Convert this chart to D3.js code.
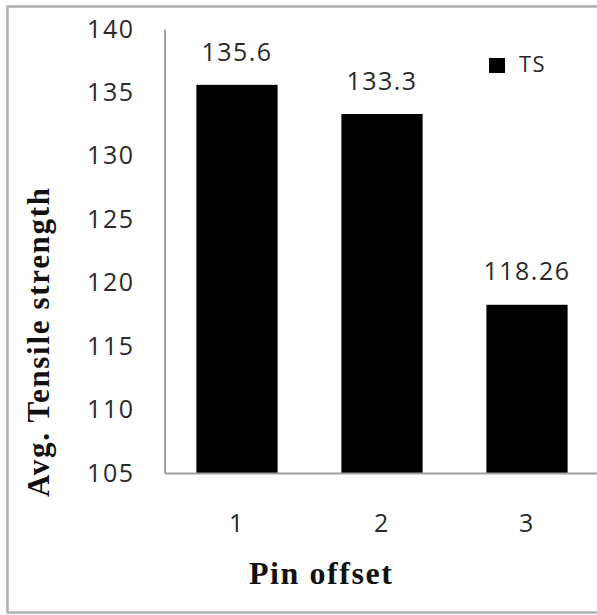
<!DOCTYPE html>
<html>
<head>
<meta charset="utf-8">
<script src="https://cdn.jsdelivr.net/npm/d3@7"></script>
<style>
  body { margin: 0; background: #fff; }
  svg { display: block; }
</style>
</head>
<body>
<svg id="chart"></svg>
<script>
// values
const categories = ['1', '2', '3']
const tsValues = [135.6, 133.3, 118.26]
const valueLabels = ['135.6', '133.3', '118.26']
const yTicks = [105, 110, 115, 120, 125, 130, 135, 140]
const seriesName = 'TS'

const width = 597, height = 615
const numFont = '"Open Sans", "Noto Sans", sans-serif'
const serifFont = '"Liberation Serif", "DejaVu Serif", serif'

let svg = d3.select('#chart')
  .attr('width', width)
  .attr('height', height)

// outer frame
svg.append('rect')
  .attr('x', 7.5)
  .attr('y', 6.5)
  .attr('width', width)
  .attr('height', 606)
  .attr('fill', 'none')
  .attr('stroke', '#b0b0b0')
  .attr('stroke-width', 2.5)

let y = d3.scaleLinear().domain([105, 140]).range([473, 29])
let x = d3.scaleBand().domain(categories).range([164.5, 599.5])
  .paddingInner(0.44).paddingOuter(0.22)

function numText (sel, size) {
  sel.attr('font-family', numFont)
    .attr('font-size', size)
    .attr('letter-spacing', 1.5)
    .attr('fill', '#2a2a2a')
}

// y axis
let yAxis = svg.append('g')
  .attr('transform', 'translate(164.5,0)')
  .call(d3.axisLeft(y).tickValues(yTicks).tickSize(0).tickSizeOuter(0).tickPadding(30))
yAxis.select('.domain').attr('stroke', '#a0a0a0').attr('stroke-width', 2)
yAxis.selectAll('text').call(numText, 25)

// bars
svg.selectAll('rect.bar')
  .data(tsValues)
  .enter()
  .append('rect')
  .attr('class', 'bar')
  .attr('x', (d, i) => x(categories[i]))
  .attr('y', (d) => y(d))
  .attr('width', x.bandwidth())
  .attr('height', (d) => y(105) - y(d))
  .attr('fill', '#000')

// x axis
let xAxis = svg.append('g')
  .attr('transform', 'translate(0,473)')
  .call(d3.axisBottom(x).tickSize(0).tickSizeOuter(0).tickPadding(41))
xAxis.select('.domain').attr('stroke', '#a0a0a0').attr('stroke-width', 2)
xAxis.selectAll('text').call(numText, 25)

// value labels
svg.selectAll('text.valueLabel')
  .data(tsValues)
  .enter()
  .append('text')
  .attr('class', 'valueLabel')
  .attr('x', (d, i) => x(categories[i]) + x.bandwidth() / 2)
  .attr('y', (d) => y(d) - 31)
  .attr('text-anchor', 'middle')
  .attr('dominant-baseline', 'middle')
  .call(numText, 25)
  .text((d, i) => valueLabels[i])

// legend
svg.append('rect')
  .attr('x', 489)
  .attr('y', 58)
  .attr('width', 16)
  .attr('height', 15)
  .attr('fill', '#000')
svg.append('text')
  .attr('x', 519)
  .attr('y', 66)
  .attr('dominant-baseline', 'middle')
  .call(numText, 22)
  .text(seriesName)

// axis titles
svg.append('text')
  .attr('x', 320.5)
  .attr('y', 584)
  .attr('text-anchor', 'middle')
  .attr('textLength', 143)
  .attr('lengthAdjust', 'spacing')
  .attr('font-family', serifFont)
  .attr('font-weight', 'bold')
  .attr('font-size', 32)
  .attr('fill', '#111')
  .text('Pin offset')

svg.append('text')
  .attr('transform', 'translate(42,342.5) rotate(-90)')
  .attr('text-anchor', 'middle')
  .attr('dominant-baseline', 'middle')
  .attr('textLength', 309)
  .attr('lengthAdjust', 'spacing')
  .attr('font-family', serifFont)
  .attr('font-weight', 'bold')
  .attr('font-size', 31)
  .attr('fill', '#111')
  .text('Avg. Tensile strength')
</script>
</body>
</html>
